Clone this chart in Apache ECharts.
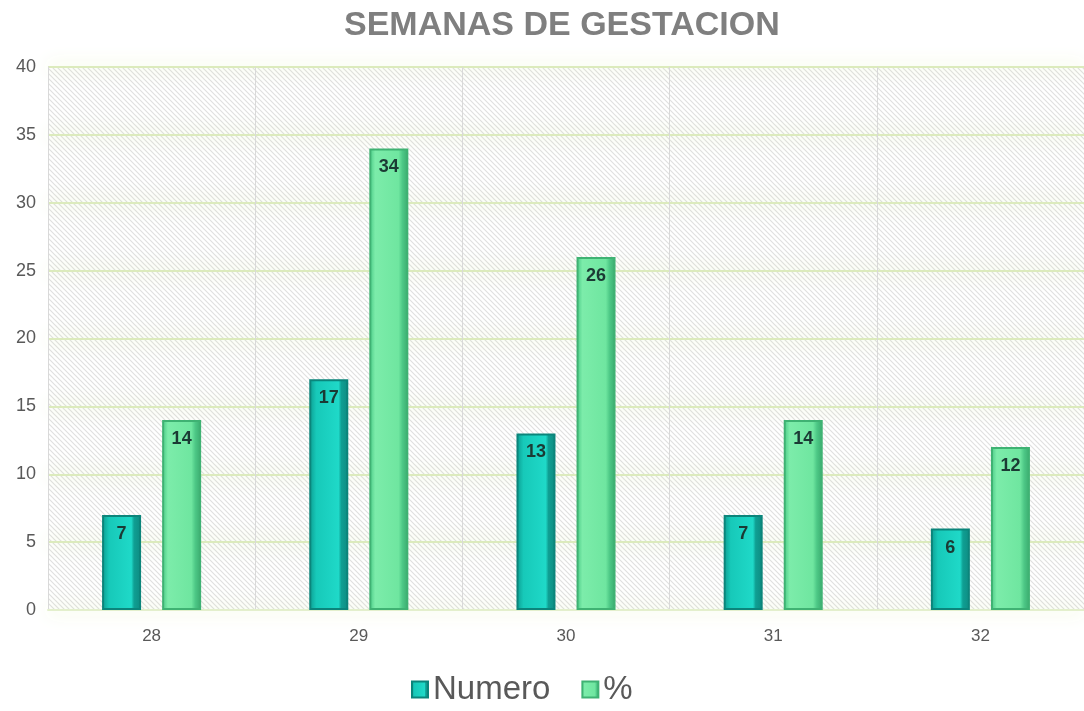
<!DOCTYPE html>
<html>
<head>
    <meta charset="utf-8">
    <title>Semanas de gestacion</title>
    <script type="text/javascript" src="https://cdn.jsdelivr.net/npm/echarts@6/dist/echarts.min.js"></script>
    <style>
        html, body { margin: 0; padding: 0; background: #fff; }
        #main { width: 1084px; height: 711px; }
    </style>
</head>
<body>
<div id="main"></div>
<script type="text/javascript">
    var semanas = ['28', '29', '30', '31', '32'];
    var numero = [7, 17, 13, 7, 6];
    var porcentaje = [14, 34, 26, 14, 12];
    var yTicks = { min: 0, max: 40, interval: 5 };

    // fondo rayado del area del grafico
    var tile = document.createElement('canvas');
    tile.width = 5;
    tile.height = 5;
    var ctx = tile.getContext('2d');
    ctx.fillStyle = '#ffffff';
    ctx.fillRect(0, 0, 5, 5);
    ctx.strokeStyle = '#e0e0e0';
    ctx.lineWidth = 1.2;
    ctx.beginPath();
    ctx.moveTo(-1, -1); ctx.lineTo(6, 6);
    ctx.moveTo(-4, 1); ctx.lineTo(4, 9);
    ctx.moveTo(1, -4); ctx.lineTo(9, 4);
    ctx.stroke();

    var myChart = echarts.init(document.getElementById('main'));
    myChart.setOption({
        animation: false,
        title: {
            text: 'SEMANAS DE GESTACION',
            left: 339,
            top: 4,
            textStyle: {
                fontFamily: 'Liberation Sans, Arial',
                fontSize: 34,
                fontWeight: 'bold',
                color: '#7f7f7f'
            }
        },
        legend: {
            bottom: 0,
            left: 406,
            itemWidth: 16,
            itemHeight: 16,
            itemGap: 31,
            icon: 'rect',
            textStyle: {
                fontFamily: 'Liberation Sans, Arial',
                fontSize: 33,
                color: '#595959'
            },
            data: ['Numero', '%']
        },
        grid: {
            left: 48,
            right: 0,
            top: 67,
            bottom: 101,
            show: true,
            borderWidth: 0,
            backgroundColor: { image: tile, repeat: 'repeat' }
        },
        xAxis: {
            type: 'category',
            data: semanas,
            axisLine: { lineStyle: { color: '#e3efcc', width: 2 } },
            axisTick: { show: false },
            axisLabel: {
                fontFamily: 'Liberation Sans, Arial',
                fontSize: 17,
                color: '#595959',
                margin: 18
            },
            splitLine: { show: true, lineStyle: { color: '#d9d9d9', width: 1 } }
        },
        yAxis: {
            type: 'value',
            min: yTicks.min,
            max: yTicks.max,
            interval: yTicks.interval,
            axisLine: { show: true, lineStyle: { color: '#d9d9d9', width: 1 } },
            axisTick: { show: false },
            axisLabel: {
                fontFamily: 'Liberation Sans, Arial',
                fontSize: 18,
                color: '#595959',
                margin: 12
            },
            splitLine: {
                lineStyle: {
                    color: '#dcebbd',
                    width: 2,
                    shadowColor: 'rgba(210, 236, 150, 0.9)',
                    shadowBlur: 18
                }
            }
        },
        series: [
            {
                name: 'Numero',
                type: 'bar',
                data: numero,
                barWidth: 39,
                barGap: '54%',
                itemStyle: {
                    color: {
                        type: 'linear', x: 0, y: 0, x2: 1, y2: 0,
                        colorStops: [
                            { offset: 0, color: '#0c9c90' },
                            { offset: 0.18, color: '#17c9b9' },
                            { offset: 0.75, color: '#1fd9c8' },
                            { offset: 0.82, color: '#0f9f93' },
                            { offset: 1, color: '#0e8b81' }
                        ]
                    },
                    borderColor: '#0b857b',
                    borderWidth: 2
                },
                label: {
                    show: true,
                    position: 'insideTop',
                    distance: 10,
                    fontFamily: 'Liberation Sans, Arial',
                    fontSize: 18,
                    fontWeight: 'bold',
                    color: '#1b3a34'
                }
            },
            {
                name: '%',
                type: 'bar',
                data: porcentaje,
                barWidth: 39,
                itemStyle: {
                    color: {
                        type: 'linear', x: 0, y: 0, x2: 1, y2: 0,
                        colorStops: [
                            { offset: 0, color: '#47c884' },
                            { offset: 0.15, color: '#7cecaa' },
                            { offset: 0.75, color: '#6fe6a0' },
                            { offset: 0.85, color: '#4dc886' },
                            { offset: 1, color: '#3aa96e' }
                        ]
                    },
                    borderColor: '#3fb273',
                    borderWidth: 2
                },
                label: {
                    show: true,
                    position: 'insideTop',
                    distance: 10,
                    fontFamily: 'Liberation Sans, Arial',
                    fontSize: 18,
                    fontWeight: 'bold',
                    color: '#1b3a34'
                }
            }
        ]
    });
</script>
</body>
</html>
